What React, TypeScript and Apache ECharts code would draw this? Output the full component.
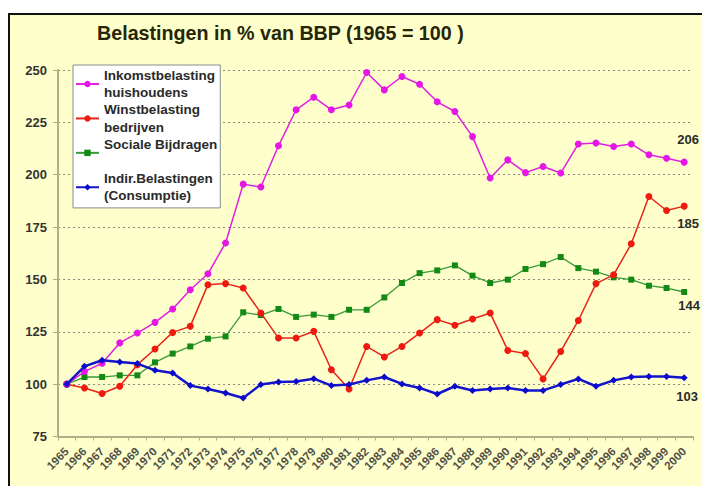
import React, { useEffect, useRef } from "react";
import * as echarts from "echarts";

const titleText = "Belastingen in % van BBP (1965 = 100 )";

const years = [
  "1965", "1966", "1967", "1968", "1969", "1970", "1971", "1972", "1973", "1974",
  "1975", "1976", "1977", "1978", "1979", "1980", "1981", "1982", "1983", "1984",
  "1985", "1986", "1987", "1988", "1989", "1990", "1991", "1992", "1993", "1994",
  "1995", "1996", "1997", "1998", "1999", "2000",
];

const inkomst = [
  100, 106, 110, 119.7, 124.4, 129.5, 135.9, 145.1, 152.7, 167.4,
  195.5, 194.1, 213.8, 231, 237, 231, 233.3, 248.8, 240.5, 246.9,
  243.2, 234.8, 230.2, 218.2, 198.4, 207.1, 201, 203.9, 200.8, 214.7,
  215.1, 213.5, 214.7, 209.5, 207.9, 206,
];

const winst = [
  100, 98.2, 95.5, 99, 109.3, 116.8, 124.7, 127.6, 147.5, 148,
  145.9, 134, 122, 122, 125.2, 106.9, 97.7, 118, 113, 118,
  124.4, 130.8, 128.1, 131.1, 134, 116.1, 114.6, 102.5, 115.6, 130.4,
  148, 152.2, 167, 189.6, 182.9, 185,
];

const sociale = [
  100, 103.4, 103.4, 104.2, 104.2, 110.4, 114.6, 118, 121.7, 122.8,
  134.3, 133, 135.9, 132.1, 133.2, 132.1, 135.5, 135.5, 141.4, 148.3,
  153, 154.3, 156.7, 151.8, 148.3, 149.9, 155, 157.3, 160.7, 155.4,
  153.7, 151, 149.9, 147, 145.9, 144,
];

const indir = [
  100, 108.5, 111.4, 110.6, 109.8, 106.6, 105.3, 99.3, 97.7, 95.8,
  93.4, 99.8, 101, 101.3, 102.6, 99.3, 99.8, 101.8, 103.4, 100.1,
  98.2, 95.3, 99, 97, 97.7, 98.2, 97, 97, 99.8, 102.5,
  99, 101.8, 103.4, 103.7, 103.7, 103,
];

const seriesNames = [
  "Inkomstbelasting huishoudens",
  "Winstbelasting bedrijven",
  "Sociale Bijdragen",
  "Indir.Belastingen (Consumptie)",
];

const legendLabels: Record<string, string> = {
  "Inkomstbelasting huishoudens": "Inkomstbelasting\nhuishoudens",
  "Winstbelasting bedrijven": "Winstbelasting\nbedrijven",
  "Sociale Bijdragen": "Sociale Bijdragen\n\u00a0",
  "Indir.Belastingen (Consumptie)": "Indir.Belastingen\n(Consumptie)",
};

const FONT = "'Liberation Sans', Arial, Helvetica, sans-serif";

export default function App() {
  const ref = useRef<HTMLDivElement>(null);

  useEffect(() => {
    if (!ref.current) return;
    const chart = echarts.init(ref.current, undefined, { renderer: "svg" });
    const last = years.length - 1;

    const endLabel = (position: string, offset: number[]) => ({
      show: true,
      position,
      offset,
      fontFamily: FONT,
      fontWeight: "bold",
      fontSize: 13,
      color: "#2b2b2b",
      formatter: (p: any) => (p.dataIndex === last ? String(Math.round(p.value)) : ""),
    });

    chart.setOption({
      animation: false,
      backgroundColor: "#ffffcc",
      title: {
        text: titleText,
        left: 87,
        top: 8,
        padding: 0,
        textStyle: {
          fontFamily: FONT,
          fontWeight: "bold",
          fontSize: 19.7,
          color: "#262608",
        },
      },
      legend: {
        orient: "vertical",
        left: 63,
        top: 50,
        padding: [3.4, 3, 5, 2],
        itemGap: 3.1,
        itemWidth: 23,
        itemHeight: 8,
        backgroundColor: "#ffffff",
        borderColor: "#8a8a8a",
        borderWidth: 1,
        data: seriesNames,
        formatter: (name: string) => legendLabels[name],
        textStyle: {
          fontFamily: FONT,
          fontWeight: "bold",
          fontSize: 13.5,
          color: "#2a2a2a",
          lineHeight: 17.3,
          padding: [0, 0, -17.3, 0],
        },
      },
      grid: { left: 48, right: 9, top: 55, bottom: 49.5, containLabel: false },
      xAxis: {
        type: "category",
        data: years,
        boundaryGap: true,
        axisLine: { lineStyle: { color: "#b3ae8a", width: 2 } },
        axisTick: { show: true, length: 4, lineStyle: { color: "#b3ae8a", width: 1 } },
        axisLabel: {
          interval: 0,
          rotate: 45,
          margin: 13,
          fontFamily: FONT,
          fontWeight: "bold",
          fontSize: 11.5,
          color: "#505046",
        },
        splitLine: { show: false },
      },
      yAxis: {
        type: "value",
        min: 75,
        max: 250,
        interval: 25,
        axisLine: { show: true, lineStyle: { color: "#b3ae8a", width: 2 } },
        axisTick: { show: true, length: 5, lineStyle: { color: "#b3ae8a", width: 1 } },
        axisLabel: {
          margin: 11,
          fontFamily: FONT,
          fontWeight: "bold",
          fontSize: 13,
          color: "#333333",
        },
        splitLine: { show: true, lineStyle: { type: [2, 3], color: "#8c8c7c", width: 1 } },
      },
      series: [
        {
          name: seriesNames[0],
          type: "line",
          data: inkomst,
          symbol: "circle",
          symbolSize: 7,
          itemStyle: { color: "#e616e6" },
          lineStyle: { color: "#e020e0", width: 1.5 },
          label: endLabel("top", [4, -8]),
          z: 4,
        },
        {
          name: seriesNames[1],
          type: "line",
          data: winst,
          symbol: "circle",
          symbolSize: 7,
          itemStyle: { color: "#ee1a10" },
          lineStyle: { color: "#e8231a", width: 1.5 },
          label: endLabel("bottom", [4, 2]),
          z: 3,
        },
        {
          name: seriesNames[2],
          type: "line",
          data: sociale,
          symbol: "rect",
          symbolSize: 6,
          itemStyle: { color: "#138a13" },
          lineStyle: { color: "#3a9a3a", width: 1.3 },
          label: endLabel("bottom", [5, -1]),
          z: 2,
        },
        {
          name: seriesNames[3],
          type: "line",
          data: indir,
          symbol: "diamond",
          symbolSize: 7,
          itemStyle: { color: "#0a0acc" },
          lineStyle: { color: "#1414cc", width: 2.5 },
          label: endLabel("bottom", [3, 4]),
          z: 5,
        },
      ],
    });

    return () => chart.dispose();
  }, []);

  return (
    <div
      style={{
        position: "fixed",
        left: 0,
        top: 0,
        width: 702,
        height: 486,
        background: "#ffffff",
        overflow: "hidden",
      }}
    >
      <div
        style={{
          position: "absolute",
          left: 8,
          top: 13,
          borderTop: "2px solid #111",
          borderLeft: "2px solid #111",
          background: "#ffffcc",
        }}
      >
        <div ref={ref} style={{ width: 692, height: 471 }} />
      </div>
    </div>
  );
}
